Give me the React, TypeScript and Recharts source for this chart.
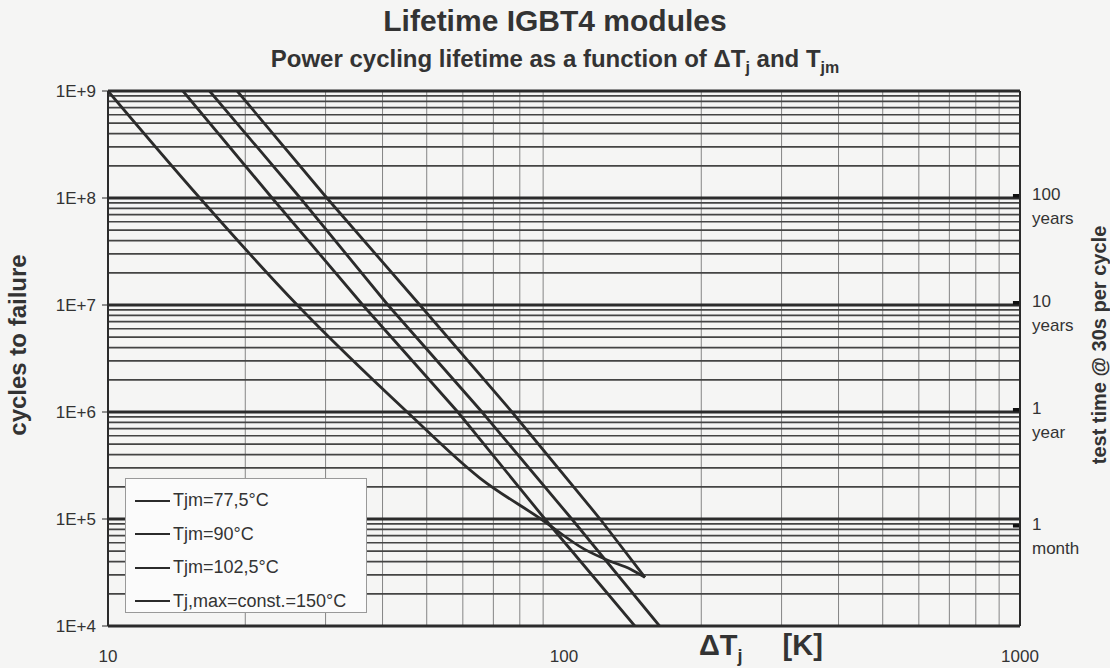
import React from 'react';
import { LineChart, Line, XAxis, YAxis, ReferenceLine, Legend } from 'recharts';

// axis ticks
const xTicks = [10, 100, 1000];
const yTicks = [1e4, 1e5, 1e6, 1e7, 1e8, 1e9];
const yTickLabels = ['1E+4', '1E+5', '1E+6', '1E+7', '1E+8', '1E+9'];
const minorSteps = [2, 3, 4, 5, 6, 7, 8, 9];

// right axis: test time @ 30s per cycle
const testTimeTicks = [8.64e4, 1.05e6, 1.05e7, 1.05e8];
const testTimeTop = ['1', '1', '10', '100'];
const testTimeBottom = ['month', 'year', 'years', 'years'];

const seriesNames = ['Tjm=77,5°C', 'Tjm=90°C', 'Tjm=102,5°C', 'Tj,max=const.=150°C'];

// curves (x = ΔTj [K], y = cycles to failure)
const tjm775 = [
  { x: 19.2, y: 1e9 },
  { x: 30.2, y: 1e8 },
  { x: 48.3, y: 1e7 },
  { x: 76.9, y: 1e6 },
  { x: 120, y: 1e5 },
  { x: 150.5, y: 2.85e4 },
];
const tjm90 = [
  { x: 16.7, y: 1e9 },
  { x: 26.4, y: 1e8 },
  { x: 41.1, y: 1e7 },
  { x: 66.1, y: 1e6 },
  { x: 104, y: 1e5 },
  { x: 162, y: 1e4 },
];
const tjm1025 = [
  { x: 14.6, y: 1e9 },
  { x: 22.9, y: 1e8 },
  { x: 36.2, y: 1e7 },
  { x: 58.5, y: 1e6 },
  { x: 90.8, y: 1e5 },
  { x: 143, y: 1e4 },
];
const tjMax150 = [
  { x: 10, y: 1e9 },
  { x: 15.9, y: 1e8 },
  { x: 26.0, y: 1e7 },
  { x: 45.3, y: 1e6 },
  { x: 65.5, y: 2.4e5 },
  { x: 89, y: 1e5 },
  { x: 111, y: 5.2e4 },
  { x: 125, y: 4.1e4 },
  { x: 140, y: 3.4e4 },
  { x: 150.5, y: 2.85e4 },
];

const FONT = '"Liberation Sans", Arial, sans-serif';
const INK = '#2b2b2b';

const minorY = yTicks.slice(0, -1).flatMap((d) => minorSteps.map((m) => d * m));
const minorX = xTicks.slice(0, -1).flatMap((d) => minorSteps.map((m) => d * m));

const LeftTick = (props: any) => {
  const { x, y, payload } = props;
  const i = yTicks.indexOf(payload.value);
  return (
    <text x={x} y={y} dy={6} textAnchor="end" fontSize={17} fill="#333" fontFamily={FONT}>
      {yTickLabels[i]}
    </text>
  );
};

const RightTick = (props: any) => {
  const { x, y, payload } = props;
  const i = testTimeTicks.indexOf(payload.value);
  return (
    <g fontSize={17} fill="#333" fontFamily={FONT}>
      <text x={x} y={y} dy={4}>{testTimeTop[i]}</text>
      <text x={x} y={y} dy={28}>{testTimeBottom[i]}</text>
    </g>
  );
};

const renderLegend = () => (
  <div
    style={{
      width: 242,
      height: 135,
      background: '#fbfbfb',
      border: '1px solid #999',
      boxSizing: 'border-box',
      padding: '5px 0 0 9px',
      fontFamily: FONT,
      fontSize: 18,
      color: '#333',
    }}
  >
    {seriesNames.map((name) => (
      <div key={name} style={{ display: 'flex', alignItems: 'center', height: 33.5 }}>
        <div style={{ width: 35, height: 0, borderTop: `2.5px solid ${INK}`, marginRight: 3 }} />
        <span>{name}</span>
      </div>
    ))}
  </div>
);

const App = () => {
  const lineProps = { yAxisId: 'left', dataKey: 'y', stroke: INK, strokeWidth: 2.8, dot: false, isAnimationActive: false };
  return (
    <div style={{ position: 'absolute', left: 0, top: 0, width: 1110, height: 668, background: '#f5f5f4' }}>
      <div
        style={{
          position: 'absolute', top: 6, width: 1110, textAlign: 'center',
          fontFamily: FONT, fontWeight: 'bold', fontSize: 30, color: '#333', lineHeight: 1,
        }}
      >
        Lifetime IGBT4 modules
      </div>
      <div
        style={{
          position: 'absolute', top: 47, width: 1110, textAlign: 'center',
          fontFamily: FONT, fontWeight: 'bold', fontSize: 24, color: '#333', lineHeight: 1,
        }}
      >
        Power cycling lifetime as a function of ΔT<sub style={{ fontSize: 16 }}>j</sub> and T
        <sub style={{ fontSize: 16 }}>jm</sub>
      </div>

      <LineChart width={1110} height={668} margin={{ top: 91, right: 10, bottom: 12, left: 48 }}>
        <XAxis
          dataKey="x"
          type="number"
          scale="log"
          domain={[10, 1000]}
          allowDataOverflow
          ticks={xTicks}
          axisLine={{ stroke: INK, strokeWidth: 2 }}
          tickLine={false}
          tickMargin={18}
          height={30}
          tick={{ fontSize: 17, fill: '#333', fontFamily: FONT }}
        />
        <YAxis
          yAxisId="left"
          dataKey="y"
          type="number"
          scale="log"
          domain={[1e4, 1e9]}
          allowDataOverflow
          ticks={yTicks}
          width={60}
          axisLine={{ stroke: INK, strokeWidth: 2 }}
          tickLine={{ stroke: INK }}
          tickSize={6}
          tickMargin={6}
          tick={<LeftTick />}
        />
        <YAxis
          yAxisId="right"
          orientation="right"
          type="number"
          scale="log"
          domain={[1e4, 1e9]}
          allowDataOverflow
          ticks={testTimeTicks}
          width={80}
          axisLine={{ stroke: INK, strokeWidth: 2 }}
          tickLine={false}
          tickSize={0}
          tickMargin={12}
          tick={<RightTick />}
        />

        {minorX.map((v) => (
          <ReferenceLine key={`vx-${v}`} x={v} yAxisId="left" stroke="#858585" strokeWidth={1} />
        ))}
        {minorY.map((v) => (
          <ReferenceLine key={`hy-${v}`} y={v} yAxisId="left" stroke="#444" strokeWidth={1.7} />
        ))}
        {yTicks.map((v) => (
          <ReferenceLine key={`my-${v}`} y={v} yAxisId="left" stroke={INK} strokeWidth={2.8} />
        ))}
        {testTimeTicks.map((v) => (
          <ReferenceLine
            key={`tt-${v}`}
            yAxisId="right"
            segment={[{ x: 965, y: v }, { x: 1000, y: v }]}
            stroke="#111"
            strokeWidth={3.5}
          />
        ))}

        <Line {...lineProps} data={tjm775} name={seriesNames[0]} type="linear" />
        <Line {...lineProps} data={tjm90} name={seriesNames[1]} type="linear" />
        <Line {...lineProps} data={tjm1025} name={seriesNames[2]} type="linear" />
        <Line {...lineProps} data={tjMax150} name={seriesNames[3]} type="monotone" />

        <Legend
          layout="vertical"
          align="center"
          verticalAlign="middle"
          content={renderLegend}
          wrapperStyle={{ left: 125, top: 478, width: 242, height: 135 }}
        />
      </LineChart>

      <div style={{ position: 'absolute', left: 18, top: 345, width: 0, height: 0 }}>
        <div
          style={{
            position: 'absolute', left: 0, top: 0, transform: 'translate(-50%, -50%) rotate(-90deg)',
            whiteSpace: 'nowrap', fontFamily: FONT, fontWeight: 'bold', fontSize: 24, color: '#333', lineHeight: 1,
          }}
        >
          cycles to failure
        </div>
      </div>
      <div style={{ position: 'absolute', left: 1099, top: 345, width: 0, height: 0 }}>
        <div
          style={{
            position: 'absolute', left: 0, top: 0, transform: 'translate(-50%, -50%) rotate(-90deg)',
            whiteSpace: 'nowrap', fontFamily: FONT, fontWeight: 'bold', fontSize: 20, color: '#333', lineHeight: 1,
          }}
        >
          test time @ 30s per cycle
        </div>
      </div>

      <div
        style={{
          position: 'absolute', left: 699, top: 631, whiteSpace: 'nowrap',
          fontFamily: FONT, fontWeight: 'bold', fontSize: 29, color: '#333', lineHeight: 1,
        }}
      >
        ΔT<sub style={{ fontSize: 18 }}>j</sub>
        <span style={{ marginLeft: 40 }}>[K]</span>
      </div>
    </div>
  );
};

export default App;
